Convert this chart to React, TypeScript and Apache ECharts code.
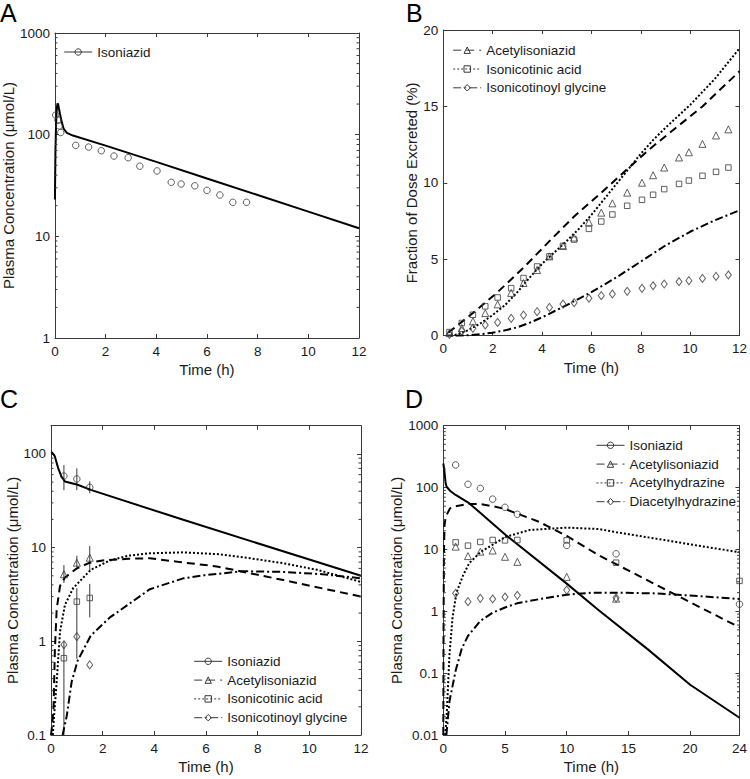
import React, { useEffect, useRef } from "react";
import * as echarts from "echarts";

const FONT = "'Liberation Sans', Arial, Helvetica, sans-serif";
const INK = "#1a1a1a";
const AXIS = "#3a3a3a";
const MARK = "#383838";

// ---------- Panel A : plasma isoniazid ----------
const aObsTime = [0.03, 0.12, 0.17, 0.23, 0.82, 1.33, 1.83, 2.33, 2.89, 3.35, 4.03, 4.59, 4.98, 5.52, 6.0, 6.51, 7.02, 7.56];
const aObsIsoniazid = [156, 139, 122, 105, 78.5, 75.5, 69.5, 61.6, 59.3, 49, 44, 34, 32.7, 31.4, 28.3, 25.5, 21.6, 21.6];
const aModelTime = [0, 0.02, 0.05, 0.08, 0.12, 0.16, 0.2, 0.25, 0.34, 0.47, 0.71, 2, 4, 6, 8, 10, 12];
const aModelIsoniazid = [23, 70, 140, 190, 203, 180, 160, 139, 115, 104, 98, 78, 54, 37, 25.5, 17.5, 12];

// ---------- Panel B : fraction of dose excreted ----------
const bObsTime = [0.25, 0.75, 1.2, 1.7, 2.2, 2.75, 3.25, 3.8, 4.3, 4.85, 5.3, 5.9, 6.4, 6.85, 7.45, 8.05, 8.5, 8.95, 9.55, 9.95, 10.5, 11.05, 11.55];
const bObsAcetylisoniazid = [0.17, 0.5, 0.94, 1.48, 2.05, 2.8, 3.45, 4.3, 5.19, 5.87, 6.42, 7.42, 8.05, 8.66, 9.36, 10.01, 10.5, 11.0, 11.66, 12.0, 12.55, 13.1, 13.5];
const bObsIsonicotinicAcid = [0.24, 0.83, 1.37, 1.92, 2.5, 3.11, 3.77, 4.53, 5.19, 5.87, 6.29, 6.99, 7.47, 7.93, 8.5, 8.89, 9.22, 9.59, 9.93, 10.15, 10.46, 10.72, 11.0];
const bObsIsonicotinoylGlycine = [0.09, 0.3, 0.48, 0.7, 0.87, 1.13, 1.35, 1.57, 1.85, 2.07, 2.16, 2.45, 2.62, 2.73, 2.9, 3.1, 3.27, 3.38, 3.53, 3.6, 3.75, 3.88, 3.97];
const bAcetylModelTime = [0.2, 1.2, 2.2, 3.25, 4.35, 5.3, 6.4, 7.45, 8.5, 9.5, 10.5, 11.25, 12];
const bAcetylModel = [0.2, 1.48, 2.85, 4.45, 6.27, 7.8, 9.35, 10.9, 12.4, 13.7, 15.0, 16.15, 17.3];
const bAcidModelTime = [0.3, 0.6, 1, 1.5, 2, 2.5, 3, 3.5, 4, 4.5, 5, 5.5, 6, 6.5, 7, 7.5, 8, 8.5, 9, 10, 11, 12];
const bAcidModel = [0, 0.1, 0.35, 0.8, 1.35, 2.0, 2.85, 3.8, 4.7, 5.45, 6.2, 7.0, 7.9, 8.9, 9.9, 10.9, 11.9, 12.8, 13.6, 15.1, 16.8, 18.8];
const bGlycineModelTime = [0.5, 1, 1.5, 2, 2.5, 3, 3.5, 4, 4.5, 5, 6, 7, 8, 9, 10, 11, 12];
const bGlycineModel = [0, 0.03, 0.1, 0.2, 0.35, 0.55, 0.85, 1.2, 1.6, 2.0, 2.85, 3.8, 4.85, 5.9, 6.8, 7.55, 8.2];

// ---------- Panel C : plasma, 4 compounds ----------
const cObsTime = [0.5, 1, 1.5];
const cObsIsoniazid = [58, 54, 44];
const cIsoniazidLow = [41, 41, 38];
const cIsoniazidHigh = [76, 70, 51];
const cObsAcetylisoniazid = [5.2, 6.9, 7.8];
const cAcetylLow = [4.2, 6.2, 5.7];
const cAcetylHigh = [6.5, 8.2, 10.4];
const cObsIsonicotinicAcid = [0.66, 2.65, 2.9];
const cAcidLow = [0.1, 1.6, 1.8];
const cAcidHigh = [1.0, 3.7, 4.1];
const cObsIsonicotinoylGlycine = [0.92, 1.12, 0.56];
const cGlycineLow = [0.92, 0.65, 0.56];
const cGlycineHigh = [0.92, 1.6, 0.56];
const cIsoniazidModelTime = [0, 0.05, 0.15, 0.28, 0.41, 0.54, 1.03, 1.54, 5.12, 12];
const cIsoniazidModel = [104, 103, 94, 70, 57, 50.7, 46.8, 41.3, 19.8, 5.0];
const cAcetylModelTime = [0, 0.05, 0.1, 0.15, 0.22, 0.35, 0.54, 1, 1.5, 2, 3, 3.83, 5, 6.41, 9, 12];
const cAcetylModel = [0.1, 0.13, 0.2, 0.8, 2.2, 3.9, 4.8, 6.0, 6.9, 7.3, 7.6, 7.7, 7.0, 6.3, 4.5, 3.0];
const cAcidModelTime = [0.07, 0.12, 0.22, 0.35, 0.54, 0.86, 1.54, 2.28, 3, 3.83, 5.12, 6.5, 7.7, 9, 10.29, 12];
const cAcidModel = [0.1, 0.16, 0.37, 1.27, 2.45, 3.7, 5.8, 7.3, 8.2, 8.7, 8.9, 8.5, 7.7, 6.8, 5.8, 4.3];
const cGlycineModelTime = [0.45, 0.61, 0.8, 1.03, 1.54, 2.28, 3.19, 3.83, 5.12, 6, 7.44, 9, 10.5, 12];
const cGlycineModel = [0.1, 0.16, 0.37, 0.62, 1.15, 1.8, 2.7, 3.6, 4.7, 5.1, 5.6, 5.5, 5.2, 4.7];

// ---------- Panel D : plasma, 24 h ----------
const dObsTimeLong = [1, 2, 3, 4, 5, 6, 10, 14, 24];
const dObsTimeShort = [1, 2, 3, 4, 5, 6, 10, 14];
const dObsIsoniazid = [232, 113, 97, 65, 48, 37, 11.6, 8.5, 1.3];
const dObsAcetylisoniazid = [11.1, 7.8, 9.2, 9.6, 7.6, 6.3, 3.6, 1.6];
const dObsAcetylhydrazine = [13, 11.5, 13.2, 14.2, 14, 14.2, 14, 6.1, 3.1];
const dObsDiacetylhydrazine = [1.95, 1.43, 1.62, 1.58, 1.7, 1.81, 2.2, 1.65];
const dIsoniazidModelTime = [0, 0.08, 0.19, 0.27, 0.54, 1, 2.09, 5.08, 10, 12.57, 16.6, 20, 24];
const dIsoniazidModel = [245, 192, 117, 103, 89, 76, 56, 17, 2.8, 1.05, 0.24, 0.065, 0.019];
const dAcetylModelTime = [0, 0.02, 0.05, 0.1, 0.2, 0.54, 1, 2, 3, 4, 5, 7.75, 10, 12.57, 16, 20, 24];
const dAcetylModel = [0.01, 0.5, 8, 25, 34, 46, 50, 54, 54, 50, 45, 28, 16.5, 8.1, 3.6, 1.4, 0.55];
const dHydrazineModelTime = [0.15, 0.27, 0.5, 0.75, 1.07, 1.6, 2.1, 3.05, 5.08, 7, 10, 12.57, 14, 17.9, 21, 24];
const dHydrazineModel = [0.01, 0.02, 0.2, 0.8, 2.0, 3.8, 6.0, 9.2, 16, 20.6, 22.5, 21.4, 19, 14.2, 11.2, 9.0];
const dDiacetylModelTime = [0.25, 0.5, 1, 1.5, 2, 3, 4, 5, 6, 8, 10, 12, 14, 17, 20, 24];
const dDiacetylModel = [0.01, 0.035, 0.11, 0.25, 0.4, 0.7, 0.95, 1.15, 1.35, 1.6, 1.85, 2.0, 2.0, 1.95, 1.8, 1.58];

const panelLetters = ["A", "B", "C", "D"];
const timeTitle = "Time (h)";
const concTitle = "Plasma Concentration (\u03bcmol/L)";
const excretedTitle = "Fraction of Dose Excreted (%)";

const SOLID = "solid";
const DASH = [8, 5];
const DOT = [2, 2];
const DASHDOT = [8, 3, 2, 3];

const GRIDS = [
  { left: 53, top: 33, width: 306, height: 305 },
  { left: 443.3, top: 30, width: 299.4, height: 305.7 },
  { left: 51, top: 425.7, width: 310, height: 309.3 },
  { left: 443.3, top: 425.7, width: 299.4, height: 309.3 },
];
const X_RANGE = [
  { min: 0, max: 12, interval: 2 },
  { min: 0, max: 12, interval: 2 },
  { min: 0, max: 12, interval: 2 },
  { min: 0, max: 24, interval: 5 },
];
const Y_RANGE: any[] = [
  { type: "log", min: 1, max: 1000 },
  { type: "value", min: 0, max: 20, interval: 5 },
  { type: "log", min: 0.1, max: 200 },
  { type: "log", min: 0.01, max: 1000 },
];
const Y_NAME = [concTitle, excretedTitle, concTitle, concTitle];
const Y_GAP = [36, 21, 30, 37];

const zip = (t: number[], v: number[]) => t.map((x, i) => [x, v[i]]);

function minorValues(min: number, max: number): number[] {
  const out: number[] = [];
  for (let e = Math.floor(Math.log10(min)); e <= Math.ceil(Math.log10(max)); e++) {
    for (let m = 2; m <= 9; m++) {
      const v = m * Math.pow(10, e);
      if (v > min * 1.0001 && v < max * 0.9999) out.push(v);
    }
  }
  return out;
}

function modelLine(name: string, g: number, t: number[], v: number[], type: any, symbol: string) {
  return {
    type: "line",
    name,
    xAxisIndex: g,
    yAxisIndex: g,
    data: zip(t, v),
    showSymbol: false,
    symbol,
    symbolSize: 6,
    lineStyle: { color: "#000", width: 2, type, cap: "butt" },
    itemStyle: { color: "#000" },
    z: 3,
    silent: true,
  };
}

function observed(name: string, g: number, t: number[], v: number[], symbol: string, size: any) {
  return {
    type: "scatter",
    name: name + " (observed)",
    xAxisIndex: g,
    yAxisIndex: g,
    data: zip(t, v),
    symbol,
    symbolSize: size,
    itemStyle: { color: "none", borderColor: MARK, borderWidth: 1 },
    z: 4,
    silent: true,
  };
}

function errorBars(g: number, t: number[], lo: number[], hi: number[]) {
  return {
    type: "custom",
    xAxisIndex: g,
    yAxisIndex: g,
    silent: true,
    z: 3,
    encode: { x: 0, y: [1, 2] },
    data: t.map((x, i) => [x, lo[i], hi[i]]),
    renderItem: (_p: any, api: any) => {
      const a = api.coord([api.value(0), api.value(1)]);
      const b = api.coord([api.value(0), api.value(2)]);
      return {
        type: "line",
        shape: { x1: a[0], y1: a[1], x2: b[0], y2: b[1] },
        style: { stroke: MARK, lineWidth: 1 },
      };
    },
  };
}

function minorTicks(g: number) {
  const xr = X_RANGE[g];
  const yr = Y_RANGE[g];
  return {
    type: "custom",
    xAxisIndex: g,
    yAxisIndex: g,
    silent: true,
    z: 6,
    data: minorValues(yr.min, yr.max).map((v) => [xr.min, v]),
    renderItem: (_p: any, api: any) => {
      const v = api.value(1);
      const l = api.coord([xr.min, v]);
      const r = api.coord([xr.max, v]);
      return {
        type: "group",
        children: [
          { type: "line", shape: { x1: l[0], y1: l[1], x2: l[0] + 2.5, y2: l[1] }, style: { stroke: AXIS, lineWidth: 1 } },
          { type: "line", shape: { x1: r[0], y1: r[1], x2: r[0] - 2.5, y2: r[1] }, style: { stroke: AXIS, lineWidth: 1 } },
        ],
      };
    },
  };
}

function legend(left: number, top: number, names: string[]) {
  return {
    orient: "vertical",
    left,
    top,
    padding: 0,
    itemWidth: 28,
    itemHeight: 8,
    itemGap: 4.8,
    selectedMode: false,
    data: names,
    textStyle: { fontSize: 13.5, color: INK, fontFamily: FONT },
    itemStyle: { color: "none", borderColor: MARK, borderWidth: 1 },
    lineStyle: { color: MARK, width: 1 },
  };
}

const fmt = (v: number) => String(+Number(v).toPrecision(6));

function buildOption() {
  const xAxis: any[] = [];
  const yAxis: any[] = [];
  const axisLine = { show: true, onZero: false, lineStyle: { color: AXIS, width: 1 } };
  const tick = { show: true, inside: true, length: 4, lineStyle: { color: AXIS } };
  for (let side = 0; side < 2; side++) {
    for (let g = 0; g < 4; g++) {
      const xr = X_RANGE[g];
      xAxis.push({
        gridIndex: g,
        type: "value",
        position: side === 0 ? "bottom" : "top",
        min: xr.min,
        max: xr.max,
        interval: xr.interval,
        axisLine,
        axisTick: tick,
        splitLine: { show: false },
        axisLabel: side === 0
          ? { show: true, fontSize: 13.5, color: INK, fontFamily: FONT, margin: 6 }
          : { show: false },
        name: side === 0 ? timeTitle : "",
        nameLocation: "middle",
        nameGap: 24,
        nameTextStyle: { fontSize: 15, color: INK, fontFamily: FONT },
      });
    }
  }
  for (let side = 0; side < 2; side++) {
    for (let g = 0; g < 4; g++) {
      const yr = Y_RANGE[g];
      const ax: any = {
        gridIndex: g,
        type: yr.type,
        position: side === 0 ? "left" : "right",
        min: yr.min,
        max: yr.max,
        axisLine,
        axisTick: tick,
        splitLine: { show: false },
        axisLabel: side === 0
          ? { show: true, fontSize: 13.5, color: INK, fontFamily: FONT, margin: 5, formatter: fmt, showMaxLabel: g !== 2 }
          : { show: false },
        name: side === 0 ? Y_NAME[g] : "",
        nameLocation: "middle",
        nameGap: Y_GAP[g],
        nameTextStyle: { fontSize: 15, color: INK, fontFamily: FONT },
      };
      if (yr.type === "log") ax.logBase = 10;
      else ax.interval = yr.interval;
      yAxis.push(ax);
    }
  }

  const series: any[] = [
    // A
    modelLine("Isoniazid", 0, aModelTime, aModelIsoniazid, SOLID, "circle"),
    observed("Isoniazid", 0, aObsTime, aObsIsoniazid, "circle", 6.5),
    // B
    modelLine("Acetylisoniazid", 1, bAcetylModelTime, bAcetylModel, DASH, "triangle"),
    modelLine("Isonicotinic acid", 1, bAcidModelTime, bAcidModel, DOT, "rect"),
    modelLine("Isonicotinoyl glycine", 1, bGlycineModelTime, bGlycineModel, DASHDOT, "diamond"),
    observed("Acetylisoniazid", 1, bObsTime, bObsAcetylisoniazid, "triangle", 7),
    observed("Isonicotinic acid", 1, bObsTime, bObsIsonicotinicAcid, "rect", 5.5),
    observed("Isonicotinoyl glycine", 1, bObsTime, bObsIsonicotinoylGlycine, "diamond", [6, 8]),
    // C
    modelLine("Isoniazid", 2, cIsoniazidModelTime, cIsoniazidModel, SOLID, "circle"),
    modelLine("Acetylisoniazid", 2, cAcetylModelTime, cAcetylModel, DASH, "triangle"),
    modelLine("Isonicotinic acid", 2, cAcidModelTime, cAcidModel, DOT, "rect"),
    modelLine("Isonicotinoyl glycine", 2, cGlycineModelTime, cGlycineModel, DASHDOT, "diamond"),
    errorBars(2, cObsTime, cIsoniazidLow, cIsoniazidHigh),
    errorBars(2, cObsTime, cAcetylLow, cAcetylHigh),
    errorBars(2, cObsTime, cAcidLow, cAcidHigh),
    errorBars(2, cObsTime, cGlycineLow, cGlycineHigh),
    observed("Isoniazid", 2, cObsTime, cObsIsoniazid, "circle", 6.5),
    observed("Acetylisoniazid", 2, cObsTime, cObsAcetylisoniazid, "triangle", 7),
    observed("Isonicotinic acid", 2, cObsTime, cObsIsonicotinicAcid, "rect", 5.5),
    observed("Isonicotinoyl glycine", 2, cObsTime, cObsIsonicotinoylGlycine, "diamond", [6, 8]),
    // D
    modelLine("Isoniazid", 3, dIsoniazidModelTime, dIsoniazidModel, SOLID, "circle"),
    modelLine("Acetylisoniazid", 3, dAcetylModelTime, dAcetylModel, DASH, "triangle"),
    modelLine("Acetylhydrazine", 3, dHydrazineModelTime, dHydrazineModel, DOT, "rect"),
    modelLine("Diacetylhydrazine", 3, dDiacetylModelTime, dDiacetylModel, DASHDOT, "diamond"),
    observed("Isoniazid", 3, dObsTimeLong, dObsIsoniazid, "circle", 6.5),
    observed("Acetylisoniazid", 3, dObsTimeShort, dObsAcetylisoniazid, "triangle", 7),
    observed("Acetylhydrazine", 3, dObsTimeLong, dObsAcetylhydrazine, "rect", 5.5),
    observed("Diacetylhydrazine", 3, dObsTimeShort, dObsDiacetylhydrazine, "diamond", [6, 8]),
    // minor log ticks
    minorTicks(0),
    minorTicks(2),
    minorTicks(3),
  ];

  const letterPos = [
    [0, 2.5],
    [406, 2.5],
    [0, 388.5],
    [405, 388.5],
  ];

  return {
    animation: false,
    backgroundColor: "#fff",
    textStyle: { fontFamily: FONT },
    grid: GRIDS.map((g) => ({ ...g, containLabel: false })),
    xAxis,
    yAxis,
    legend: [
      legend(63.7, 45, ["Isoniazid"]),
      legend(452.7, 43.2, ["Acetylisoniazid", "Isonicotinic acid", "Isonicotinoyl glycine"]),
      legend(193.7, 654.3, ["Isoniazid", "Acetylisoniazid", "Isonicotinic acid", "Isonicotinoyl glycine"]),
      legend(596, 438.3, ["Isoniazid", "Acetylisoniazid", "Acetylhydrazine", "Diacetylhydrazine"]),
    ],
    graphic: panelLetters.map((L, i) => ({
      type: "text",
      x: letterPos[i][0],
      y: letterPos[i][1],
      style: {
        text: L,
        fontSize: 25,
        lineHeight: 20,
        fill: "#000",
        fontFamily: FONT,
        verticalAlign: "top",
      },
    })),
    series,
  };
}

export default function App() {
  const ref = useRef<HTMLDivElement>(null);
  useEffect(() => {
    if (!ref.current) return;
    const chart = echarts.init(ref.current, undefined, { renderer: "svg" });
    chart.setOption(buildOption() as any);
    return () => chart.dispose();
  }, []);
  return (
    <div
      ref={ref}
      style={{ position: "absolute", left: 0, top: 0, width: 750, height: 779, background: "#fff" }}
    />
  );
}
